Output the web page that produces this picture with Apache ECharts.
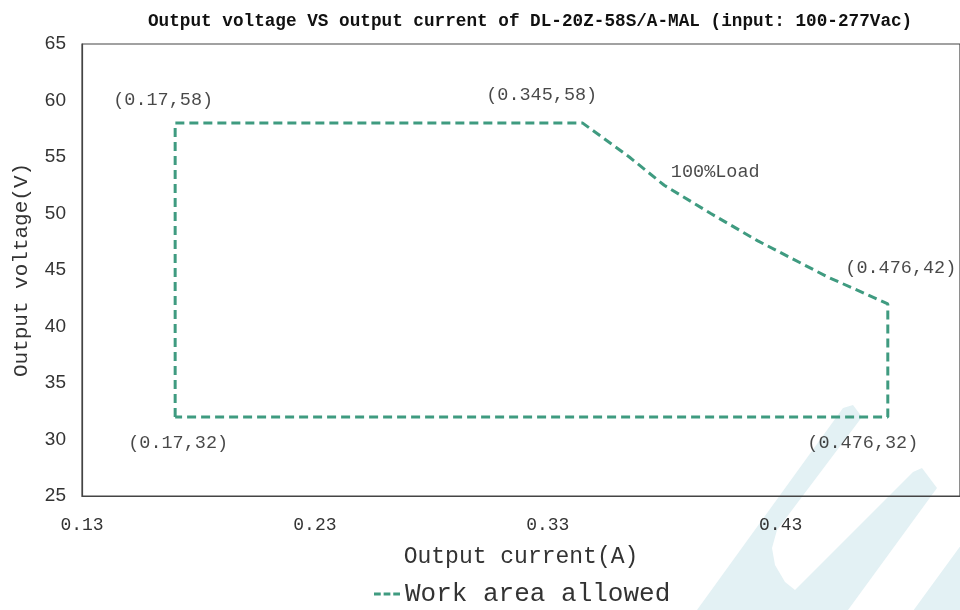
<!DOCTYPE html>
<html>
<head>
<meta charset="utf-8">
<script src="https://cdn.jsdelivr.net/npm/echarts@6/dist/echarts.min.js"></script>
<style>html,body{margin:0;padding:0;background:#fff}#c{width:960px;height:610px}</style>
</head>
<body>
<div id="c"></div>
<script>
// ---- data ----
var titleText = 'Output voltage VS output current of DL-20Z-58S/A-MAL (input: 100-277Vac)';
var seriesName = 'Work area allowed';
var current = [0.17, 0.17, 0.345, 0.365, 0.38, 0.40, 0.42, 0.45, 0.476, 0.476, 0.17];
var voltage = [32, 58, 58, 55, 52.5, 50, 47.6, 44.4, 42, 32, 32];
var pointLabels = ['(0.17,32)', '(0.17,58)', '(0.345,58)', '', '100%Load', '', '', '', '(0.476,42)', '(0.476,32)', ''];
var xTicks = [0.13, 0.23, 0.33, 0.43];
var yTicks = [25, 30, 35, 40, 45, 50, 55, 60, 65];

// ---- styles / layout ----
var FONT = '"Liberation Mono", "DejaVu Sans Mono", monospace';
var labelOffsets = {0: [3, 26], 1: [-12, -23], 2: [-41, -28], 4: [51, -13], 8: [13, -36], 9: [-25, 26]};
var lineColor = '#3f9b80';

var lineData = current.map(function (c, i) { return [c, voltage[i]]; });
var labelData = [];
current.forEach(function (c, i) {
  if (!pointLabels[i]) return;
  labelData.push({
    value: [c, voltage[i]],
    label: {
      show: true, formatter: pointLabels[i], position: 'inside',
      offset: labelOffsets[i] || [0, 0],
      color: '#1a1a1a', fontFamily: FONT, fontSize: 18.5
    }
  });
});

var chart = echarts.init(document.getElementById('c'), null, {renderer: 'canvas'});
chart.setOption({
  backgroundColor: '#fff',
  animation: false,
  title: {
    text: titleText, top: 8, left: 143,
    textStyle: {fontFamily: FONT, fontSize: 17.7, fontWeight: 'bold', color: '#111'}
  },
  grid: {left: 82, top: 44, bottom: 114, right: -1, show: true, borderColor: '#444', borderWidth: 1.2, backgroundColor: 'transparent'},
  xAxis: {
    type: 'value', min: xTicks[0], max: 0.507, interval: 0.1,
    name: 'Output current(A)', nameLocation: 'middle', nameGap: 49,
    nameTextStyle: {fontFamily: FONT, fontSize: 23, color: '#333'},
    axisLine: {show: true, lineStyle: {color: '#444', width: 1.2}},
    axisTick: {show: false}, splitLine: {show: false},
    axisLabel: {fontFamily: FONT, fontSize: 18, color: '#333', margin: 20, showMaxLabel: false,
      formatter: function (v) { return v.toFixed(2); }}
  },
  yAxis: {
    type: 'value', min: yTicks[0], max: yTicks[yTicks.length - 1], interval: 5,
    name: 'Output voltage(V)', nameLocation: 'middle', nameGap: 50,
    nameTextStyle: {fontFamily: FONT, fontSize: 21, color: '#333'},
    axisLine: {show: true, lineStyle: {color: '#444', width: 1.2}},
    axisTick: {show: false}, splitLine: {show: false},
    axisLabel: {fontFamily: '"Liberation Sans", Arial, sans-serif', fontSize: 19, color: '#333', margin: 16}
  },
  legend: {
    data: [{name: seriesName, icon: 'path://M0,0h7v3h-7z M10,0h7v3h-7z M20,0h7v3h-7z'}],
    bottom: -2, left: 369, itemWidth: 26, itemHeight: 3, itemGap: 4,
    textStyle: {fontFamily: FONT, fontSize: 26, color: '#333'}
  },
  graphic: [{
    type: 'polygon', z: -10, silent: true,
    shape: {points: [[697, 610], [843, 408], [853, 405], [862, 417], [777, 530], [772, 548], [775, 565], [785, 582], [795, 590], [913, 472], [922, 468], [937, 488], [848, 610]]},
    style: {fill: '#e3f1f4'}
  }, {
    type: 'polygon', z: -10, silent: true,
    shape: {points: [[961, 545], [913, 611], [961, 611]]},
    style: {fill: '#e3f1f4'}
  }],
  series: [{
    name: seriesName, type: 'line', data: lineData, symbol: 'none', z: 5,
    lineStyle: {color: lineColor, width: 3, type: [9, 5]},
    itemStyle: {color: lineColor}
  }, {
    name: 'labels', type: 'scatter', data: labelData, symbolSize: 0, z: 6, silent: true,
    itemStyle: {color: 'transparent'}
  }]
});
</script>
</body>
</html>
